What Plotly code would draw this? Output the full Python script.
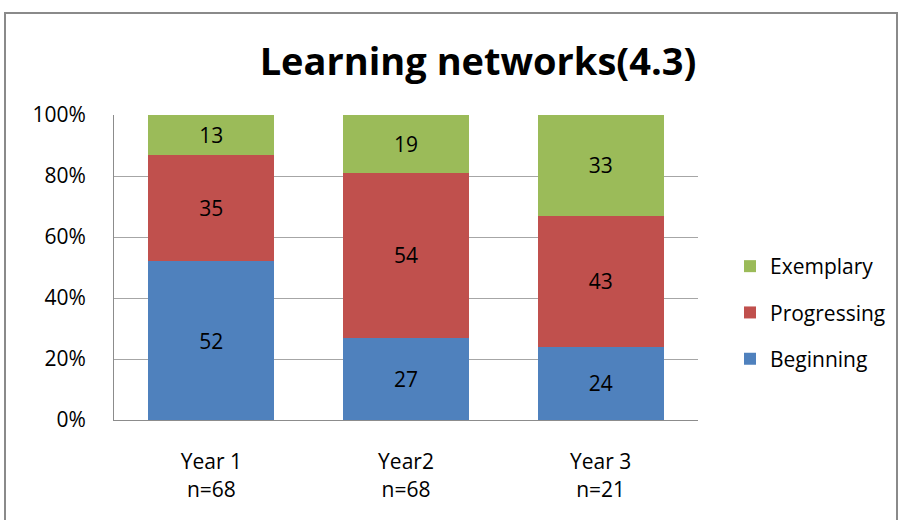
import plotly.graph_objects as go

categories = ["Year 1<br>n=68", "Year2<br>n=68", "Year 3<br>n=21"]
beginning = [52, 27, 24]
progressing = [35, 54, 43]
exemplary = [13, 19, 33]
series = [("Beginning", beginning, "#4F81BD"),
          ("Progressing", progressing, "#C0504D"),
          ("Exemplary", exemplary, "#9BBB59")]
y_ticks = [0, 20, 40, 60, 80, 100]
y_tick_labels = ["0%", "20%", "40%", "60%", "80%", "100%"]

FONT = "Open Sans"
FS = 21
fig = go.Figure()
for i, (name, vals, color) in enumerate(series):
    fig.add_trace(go.Bar(
        x=categories, y=vals, name=name, marker_color=color,
        marker_line_width=0,
        text=[str(v) for v in vals], textposition="inside",
        insidetextanchor="middle",
        textfont=dict(family=FONT, size=FS, color="#000000"),
        legendgroup=name, legendrank=len(series) - i,
    ))

W, H = 903, 520
L, R, T, B = 114, 205, 115, 100
pw = W - L - R
ph = H - T - B

def px_x(p):
    return (p - L) / pw

def px_y(p):
    return (H - B - p) / ph

fig.update_layout(
    width=W, height=H,
    margin=dict(l=L, r=R, t=T, b=B),
    paper_bgcolor="white", plot_bgcolor="white",
    barmode="stack", bargap=0.353,
    title=dict(text="<b>Learning networks(4.3)</b>", x=px_x(478), xref="paper",
               xanchor="center", y=1 - 62 / H, yanchor="middle",
               font=dict(family=FONT, size=38, color="#000000")),
    font=dict(family=FONT, size=FS, color="#000000"),
    showlegend=True,
    legend=dict(traceorder="grouped", x=px_x(730), xanchor="left",
                y=px_y(246), yanchor="top", tracegroupgap=16,
                font=dict(family=FONT, size=FS, color="#000000"),
                itemwidth=30, bgcolor="rgba(0,0,0,0)"),
    xaxis=dict(showline=True, linecolor="#8c8c8c", linewidth=1,
               ticks="", tickfont=dict(family=FONT, size=FS), ticklabelstandoff=23),
    yaxis=dict(range=[0, 100], tickvals=y_ticks, ticktext=y_tick_labels,
               showgrid=True, gridcolor="#a6a6a6", gridwidth=1,
               showline=True, linecolor="#8c8c8c", linewidth=1,
               ticks="", ticklabelstandoff=23,
               tickfont=dict(family=FONT, size=FS), zeroline=False),
    shapes=[dict(type="rect", xref="paper", yref="paper",
                 x0=px_x(5), x1=px_x(897), y0=px_y(525), y1=px_y(13),
                 line=dict(color="#8a8a8a", width=2), fillcolor="rgba(0,0,0,0)",
                 layer="below")],
)

fig.write_html("out.html")
